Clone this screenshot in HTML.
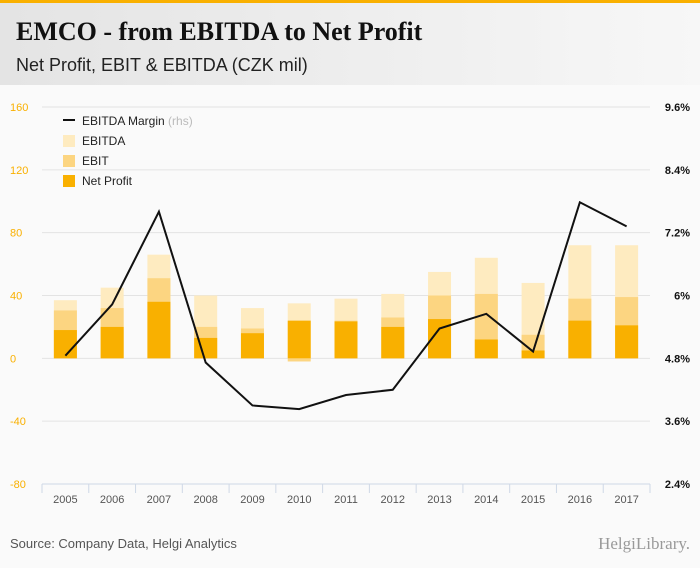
<!DOCTYPE html>
<html><head><meta charset="utf-8"><style>
body{margin:0;width:700px;height:568px;overflow:hidden;background:#fafafa;font-family:"Liberation Sans",sans-serif}
#hdr{position:absolute;left:0;top:0;width:700px;height:85px;background:linear-gradient(90deg,#e4e4e4,#f7f7f7);border-top:3px solid #f9b000;box-sizing:border-box}
#title{position:absolute;left:16px;top:14px;font-family:"Liberation Serif",serif;font-weight:bold;font-size:26px;color:#111}
#sub{position:absolute;left:16px;top:52px;font-size:18px;color:#222}
svg{position:absolute;left:0;top:0}
</style></head><body>
<div id="hdr"><div id="title">EMCO - from EBITDA to Net Profit</div><div id="sub">Net Profit, EBIT &amp; EBITDA (CZK mil)</div></div>
<svg id="c" width="700" height="568"></svg>
<script>
const years=['2005','2006','2007','2008','2009','2010','2011','2012','2013','2014','2015','2016','2017'];
const ebitda=[37,45,66,40,32,35,38,41,55,64,48,72,72];
const ebit=[30.5,32,51,20,19,-2,24,26,40,41,15,38,39];
const netProfit=[18,20,36,13,16,24,23.5,20,25,12,5,24,21];
const margin=[4.85,5.83,7.6,4.72,3.9,3.83,4.1,4.2,5.37,5.65,4.93,7.78,7.32];
const leftTicks=[160,120,80,40,0,-40,-80];
const rightTicks=['9.6%','8.4%','7.2%','6%','4.8%','3.6%','2.4%'];
const rightVals=[9.6,8.4,7.2,6,4.8,3.6,2.4];
const NS='http://www.w3.org/2000/svg';
const svg=document.getElementById('c');
const X0=42,X1=650,Y0=107,Y1=484;
const step=(X1-X0)/years.length;
const xc=i=>X0+step*(i+0.5);
const yL=v=>Y0+(160-v)/240*(Y1-Y0);
const yR=v=>Y0+(9.6-v)/7.2*(Y1-Y0);
function el(t,a,p){const e=document.createElementNS(NS,t);for(const k in a)e.setAttribute(k,a[k]);(p||svg).appendChild(e);return e;}
leftTicks.forEach((v,i)=>{
 const g=el('line',{x1:X0,x2:X1,y1:yL(v),y2:yL(v),stroke:'#e3e3e3','stroke-width':1});
 
 
 const t=el('text',{x:10,y:yL(v)+4,'font-size':11,fill:'#f9b000'});t.textContent=v;
 
 
 const r=el('text',{x:690,y:yR(rightVals[i])+4,'font-size':11,fill:'#111','text-anchor':'end','font-weight':'bold'});r.textContent=rightTicks[i];
 
 
});
const ax=el('line',{x1:X0,x2:X1,y1:Y1,y2:Y1,stroke:'#cfd8e6'});


for(let i=0;i<=years.length;i++){const tk=el('line',{x1:X0+step*i,x2:X0+step*i,y1:Y1,y2:Y1+9,stroke:'#cfd8e6'});
 
 }
years.forEach((y,i)=>{const t=el('text',{x:xc(i),y:503,'font-size':11,fill:'#555','text-anchor':'middle'});t.textContent=y;
 
 });
const bw=23;
function bars(arr,col,name){arr.forEach((v,i)=>{const a=yL(Math.max(v,0)),b=yL(Math.min(v,0));
 const r=el('rect',{x:xc(i)-bw/2,y:a,width:bw,height:b-a,fill:col});
 
 });}
bars(ebitda,'#feebc0','ebitda');bars(ebit,'#fcd581','ebit');bars(netProfit,'#f9b000','net-profit');
const pl=el('polyline',{points:margin.map((v,i)=>xc(i)+','+yR(v)).join(' '),fill:'none',stroke:'#111','stroke-width':2});


const lg=el('g',{});


el('line',{x1:63,x2:75,y1:120,y2:120,stroke:'#111','stroke-width':2},lg);
const t0=el('text',{x:82,y:125,'font-size':12,fill:'#222'},lg);t0.innerHTML='EBITDA Margin <tspan fill="#bbb">(rhs)</tspan>';
[['EBITDA','#feebc0',141],['EBIT','#fcd581',161],['Net Profit','#f9b000',181]].forEach(d=>{
 el('rect',{x:63,y:d[2]-6,width:12,height:12,fill:d[1]},lg);
 const t=el('text',{x:82,y:d[2]+4,'font-size':12,fill:'#222'},lg);t.textContent=d[0];
 
 
});
const s=el('text',{x:10,y:548,'font-size':13,fill:'#555'});s.textContent='Source: Company Data, Helgi Analytics';


const h=el('text',{x:690,y:549,'font-size':17,fill:'#999','text-anchor':'end','font-family':'Liberation Serif,serif'});h.textContent='HelgiLibrary.';


</script>
</body></html>
